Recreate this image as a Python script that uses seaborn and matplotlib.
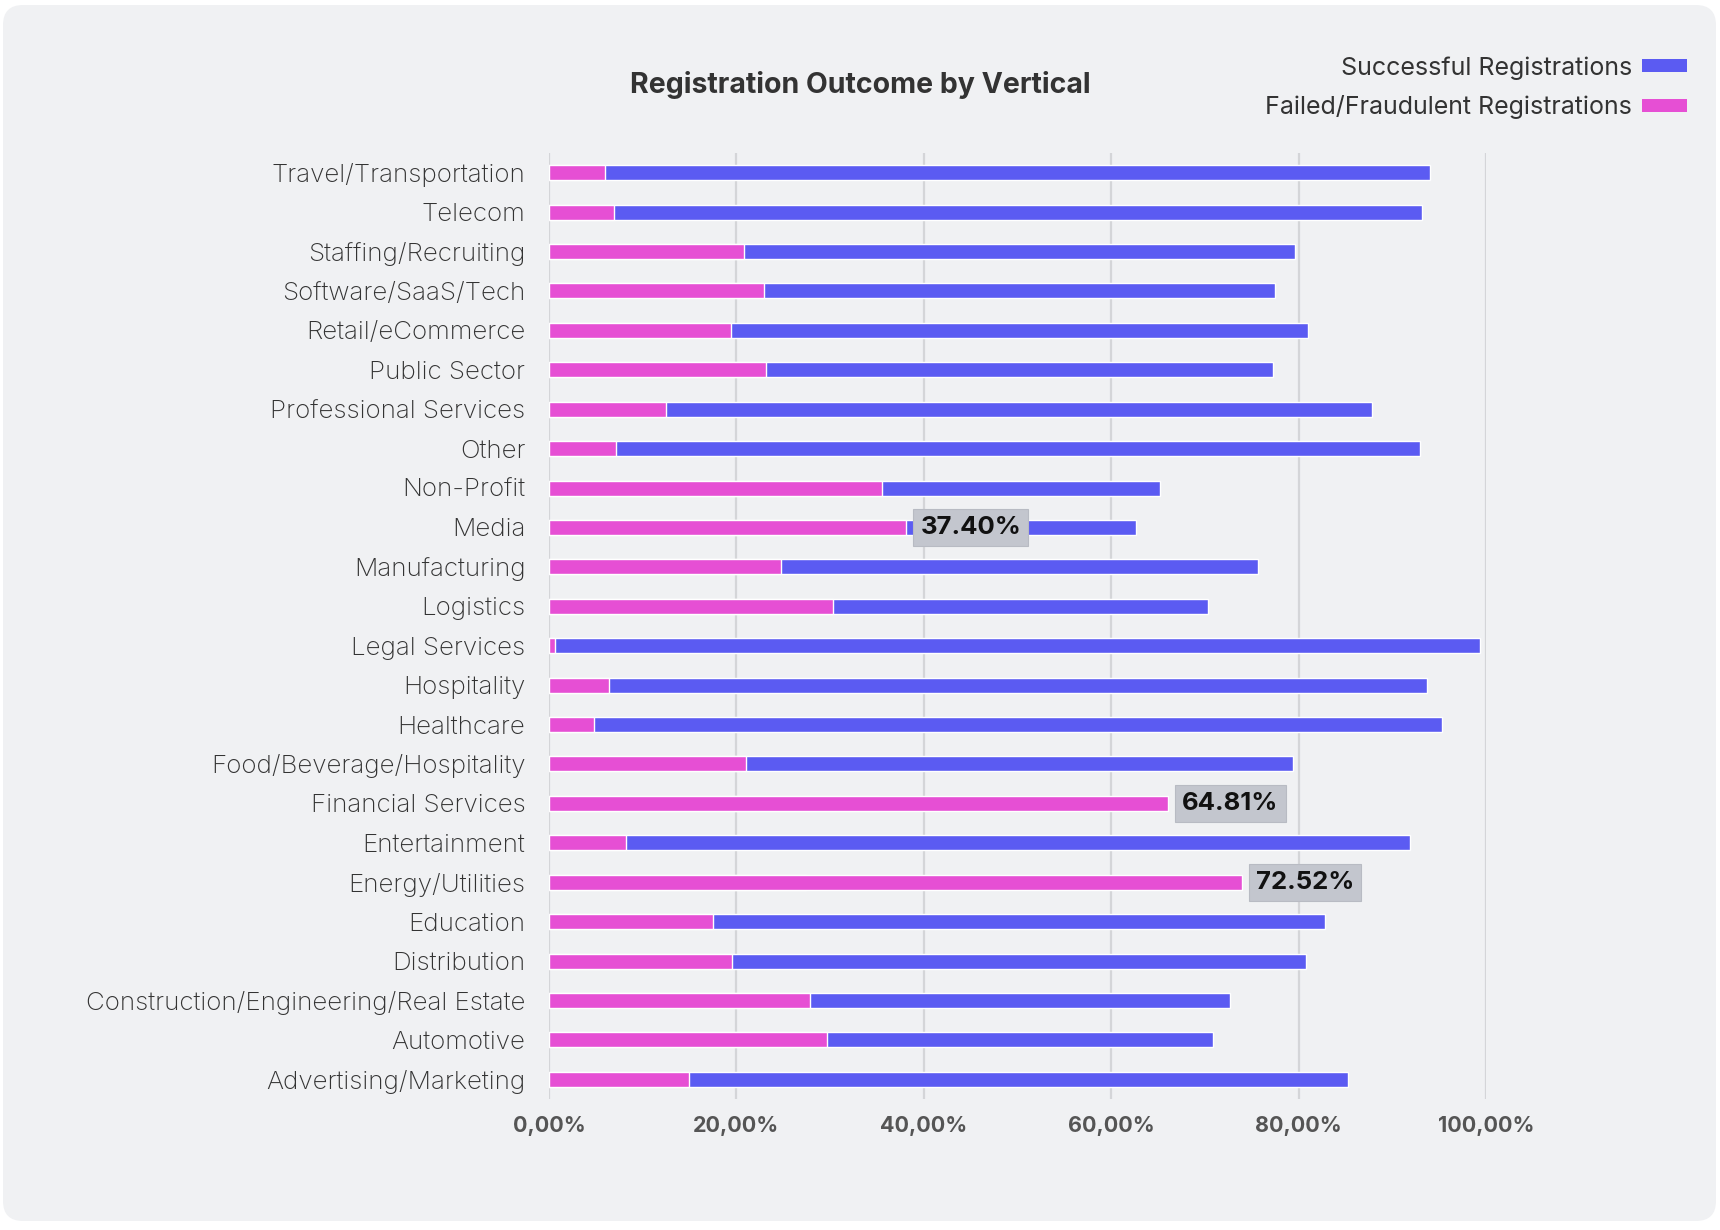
import matplotlib
matplotlib.use("Agg")
import matplotlib.pyplot as plt
import seaborn as sns
import pandas as pd
from matplotlib.patches import Patch, FancyBboxPatch
from matplotlib.ticker import FuncFormatter

categories = [
    "Travel/Transportation", "Telecom", "Staffing/Recruiting", "Software/SaaS/Tech",
    "Retail/eCommerce", "Public Sector", "Professional Services", "Other",
    "Non-Profit", "Media", "Manufacturing", "Logistics", "Legal Services",
    "Hospitality", "Healthcare", "Food/Beverage/Hospitality", "Financial Services",
    "Entertainment", "Energy/Utilities", "Education", "Distribution",
    "Construction/Engineering/Real Estate", "Automotive", "Advertising/Marketing",
]
successful = [94.0, 93.2, 79.6, 77.5, 81.0, 77.3, 87.8, 93.0, 65.2, 62.60, 75.7, 70.3,
              99.4, 93.7, 95.3, 79.4, 35.19, 91.9, 27.48, 82.8, 80.8, 72.7, 70.9, 85.3]
failed = [5.9, 6.8, 20.4, 22.5, 19.0, 22.7, 12.2, 7.0, 34.8, 37.40, 24.3, 29.7,
          0.6, 6.3, 4.7, 20.6, 64.81, 8.1, 72.52, 17.2, 19.2, 27.3, 29.1, 14.7]
labelled = ["Media", "Financial Services", "Energy/Utilities"]
xticks = [0, 20, 40, 60, 80, 100]

BLUE = "#5b5bf2"
PINK = "#e64fd4"
CARD = "#f0f1f3"

df = pd.DataFrame({"category": categories, "successful": successful, "failed": failed})

sns.set_style("white")
plt.rcParams["font.family"] = ["Inter", "DejaVu Sans"]

fig = plt.figure(figsize=(17.2, 12.3), dpi=100, facecolor="white")
card = FancyBboxPatch((0.03, 0.09), 17.13, 12.16,
                      boxstyle="round,pad=0,rounding_size=0.2",
                      transform=fig.dpi_scale_trans, fc=CARD, ec="none", zorder=-10)
fig.add_artist(card)

ax = fig.add_axes([549 / 1720, 1 - 1099 / 1230, (1486 - 549) / 1720, (1099 - 153) / 1230])
ax.set_facecolor("none")

sns.barplot(data=df, y="category", x="successful", color=BLUE, width=0.38,
            saturation=1, ax=ax, zorder=2)
ax2 = ax.twiny()
sns.barplot(data=df, y="category", x="failed", color=PINK, width=0.38,
            saturation=1, ax=ax2, zorder=3)

ax.set_xlim(0, 100)
ax2.set_xlim(0, 100 * 8.53 / 8.70)
ax.set_ylim(len(categories) - 0.5, -0.5)

for a in (ax, ax2):
    for s in a.spines.values():
        s.set_visible(False)
    a.set_xlabel("")
    a.set_ylabel("")

ax2.set_xticks([])
ax2.tick_params(axis="both", length=0)

ax.set_xticks(xticks)
ax.xaxis.set_major_formatter(FuncFormatter(lambda v, p: f"{v:.2f}%".replace(".", ",")))
ax.grid(axis="x", color="#d4d5d8", linewidth=1.6, zorder=0)
ax.set_axisbelow(True)
ax.tick_params(axis="x", length=0, pad=12, labelsize=15.5, labelcolor="#555555")
for t in ax.get_xticklabels():
    t.set_fontweight("bold")
ax.tick_params(axis="y", length=0, pad=17, labelsize=18.7, labelcolor="#333333")
for t in ax.get_yticklabels():
    t.set_fontweight("light")

for i, (c, v) in enumerate(zip(categories, failed)):
    if c in labelled:
        ax2.annotate(f"{v:.2f}%", xy=(v, i), xytext=(10, 0), textcoords="offset points",
                     ha="left", va="center", fontsize=18.5, fontweight="bold", color="#111111",
                     bbox=dict(boxstyle="square,pad=0.27", fc="#c3c6ce", ec="#b8bbc3", lw=0.8),
                     zorder=5)

fig.text(0.5, 1 - 85 / 1230, "Registration Outcome by Vertical", ha="center", va="center",
         fontsize=20.5, fontweight="bold", color="#333333")

handles = [Patch(facecolor=BLUE, edgecolor="none"), Patch(facecolor=PINK, edgecolor="none")]
fig.legend(handles, ["Successful Registrations", "Failed/Fraudulent Registrations"],
           loc="upper right", bbox_to_anchor=(1687 / 1720, 1 - 56 / 1230), frameon=False,
           markerfirst=False, fontsize=18, handlelength=1.8, handleheight=0.44,
           handletextpad=0.4, labelspacing=0.63, borderpad=0, borderaxespad=0,
           labelcolor="#333333")

fig.savefig("out.png", dpi=100, facecolor="white")
